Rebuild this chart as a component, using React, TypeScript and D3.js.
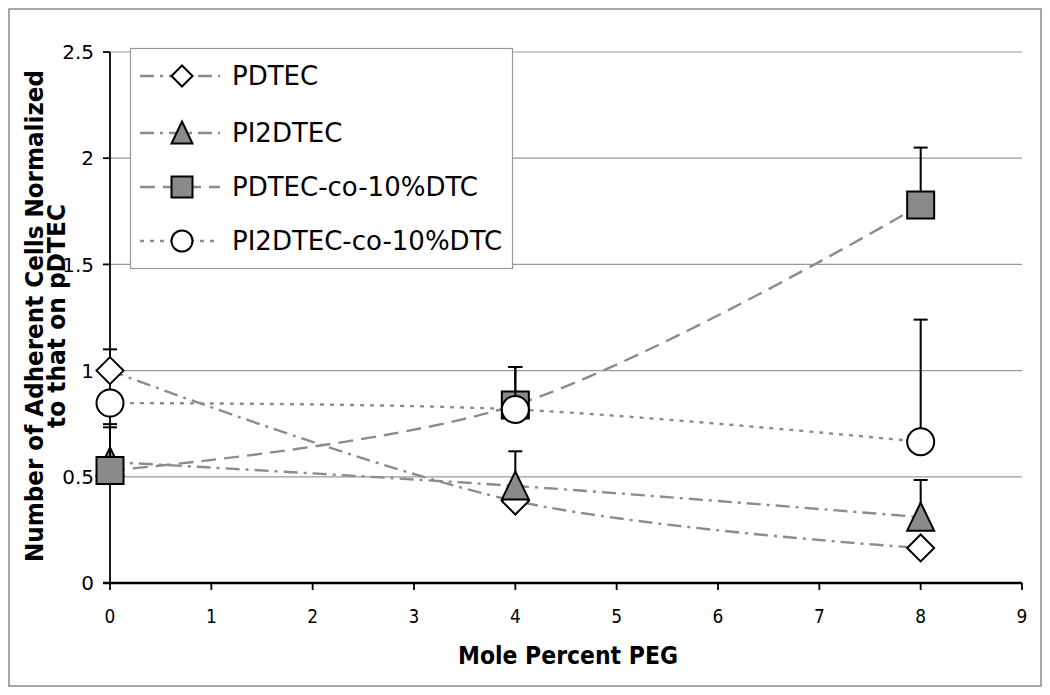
import React, { useEffect, useRef } from "react";
import * as d3 from "d3";

// mole percent PEG on the x axis
const molePercent = [0, 4, 8];

const seriesNames = ["PDTEC", "PI2DTEC", "PDTEC-co-10%DTC", "PI2DTEC-co-10%DTC"];
const pdtec = [1.0, 0.386, 0.165];
const pdtecErr = [0.1, 0.05, 0.0];
const pi2dtec = [0.57, 0.457, 0.31];
const pi2dtecErr = [0.163, 0.163, 0.175];
const pdtecCo = [0.53, 0.838, 1.78];
const pdtecCoErr = [0.218, 0.179, 0.27];
const pi2dtecCo = [0.847, 0.817, 0.665];
const pi2dtecCoErr = [0.0, 0.2, 0.575];

const xTicks = [0, 1, 2, 3, 4, 5, 6, 7, 8, 9];
const yTicks = [0, 0.5, 1, 1.5, 2, 2.5];

const W = 1050;
const H = 695;
const plot = { left: 110, right: 1022, top: 52, bottom: 583 };
const lineGray = "#8c8c8c";
const font = "'DejaVu Sans', Verdana, sans-serif";

type Marker = "diamond" | "triangle" | "square" | "circle";

const styles: { marker: Marker; fill: string; dash: string }[] = [
  { marker: "diamond", fill: "#ffffff", dash: "14,6,3,6" },
  { marker: "triangle", fill: "#8a8a8a", dash: "14,6,3,6" },
  { marker: "square", fill: "#8a8a8a", dash: "15,8" },
  { marker: "circle", fill: "#ffffff", dash: "4,6" },
];

function markerPath(m: Marker, s: number): string {
  const h = s / 2;
  if (m === "diamond") return `M0,${-h}L${h},0L0,${h}L${-h},0Z`;
  if (m === "square") return `M${-h},${-h}H${h}V${h}H${-h}Z`;
  if (m === "triangle") return `M0,${-h - 1}L${h},${h}L${-h},${h}Z`;
  return d3.arc()({ innerRadius: 0, outerRadius: h, startAngle: 0, endAngle: 2 * Math.PI }) as string;
}

const App: React.FC = () => {
  const svgRef = useRef<SVGSVGElement>(null);

  useEffect(() => {
    document.body.style.margin = "0";
    const svg = d3.select(svgRef.current);
    svg.selectAll("*").remove();

    const x = d3.scaleLinear().domain([0, 9]).range([plot.left, plot.right]);
    const y = d3.scaleLinear().domain([0, 2.5]).range([plot.bottom, plot.top]);

    const values = [pdtec, pi2dtec, pdtecCo, pi2dtecCo];
    const errors = [pdtecErr, pi2dtecErr, pdtecCoErr, pi2dtecCoErr];

    svg.append("rect").attr("width", W).attr("height", H).attr("fill", "#fff");
    svg
      .append("rect")
      .attr("x", 9)
      .attr("y", 9)
      .attr("width", 1032)
      .attr("height", 677)
      .attr("fill", "none")
      .attr("stroke", "#8a8a8a")
      .attr("stroke-width", 1.5);

    // axis titles (condensed bold, like the original Tahoma)
    svg
      .append("text")
      .attr("x", 568)
      .attr("y", 664)
      .attr("text-anchor", "middle")
      .attr("font-family", font)
      .attr("font-weight", "bold")
      .attr("font-size", 25)
      .attr("textLength", 220)
      .attr("lengthAdjust", "spacingAndGlyphs")
      .text("Mole Percent PEG");

    const yTitle = svg
      .append("g")
      .attr("transform", `translate(0, 316) rotate(-90)`)
      .attr("font-family", font)
      .attr("font-weight", "bold")
      .attr("font-size", 25);
    yTitle
      .append("text")
      .attr("x", 0)
      .attr("y", 43)
      .attr("text-anchor", "middle")
      .attr("textLength", 492)
      .attr("lengthAdjust", "spacingAndGlyphs")
      .text("Number of Adherent Cells Normalized");
    yTitle
      .append("text")
      .attr("x", 0)
      .attr("y", 65)
      .attr("text-anchor", "middle")
      .attr("textLength", 224)
      .attr("lengthAdjust", "spacingAndGlyphs")
      .text("to that on pDTEC");

    // grid lines
    svg
      .append("g")
      .selectAll("line")
      .data(yTicks.filter((t) => t > 0))
      .enter()
      .append("line")
      .attr("x1", plot.left)
      .attr("x2", plot.right)
      .attr("y1", (d) => y(d))
      .attr("y2", (d) => y(d))
      .attr("stroke", "#999")
      .attr("stroke-width", 1.2);

    // y axis
    const yAxis = svg.append("g");
    yAxis
      .append("line")
      .attr("x1", plot.left)
      .attr("x2", plot.left)
      .attr("y1", y(0))
      .attr("y2", y(2.5))
      .attr("stroke", "#000")
      .attr("stroke-width", 1.8);
    yTicks.forEach((t) => {
      yAxis
        .append("line")
        .attr("x1", plot.left - 7)
        .attr("x2", plot.left)
        .attr("y1", y(t))
        .attr("y2", y(t))
        .attr("stroke", "#000")
        .attr("stroke-width", 1.8);
      yAxis
        .append("text")
        .attr("x", 94)
        .attr("y", y(t))
        .attr("dy", "0.36em")
        .attr("text-anchor", "end")
        .attr("font-family", font)
        .attr("font-size", 20)
        .text(String(t));
    });

    // x axis
    const xAxis = svg.append("g");
    xAxis
      .append("line")
      .attr("x1", plot.left - 7)
      .attr("x2", plot.right)
      .attr("y1", y(0))
      .attr("y2", y(0))
      .attr("stroke", "#000")
      .attr("stroke-width", 2.4);
    xTicks.forEach((t) => {
      xAxis
        .append("line")
        .attr("x1", x(t))
        .attr("x2", x(t))
        .attr("y1", y(0))
        .attr("y2", y(0) + 7)
        .attr("stroke", "#000")
        .attr("stroke-width", 1.8);
      xAxis
        .append("text")
        .attr("x", x(t))
        .attr("y", 623)
        .attr("text-anchor", "middle")
        .attr("font-family", font)
        .attr("font-size", 20)
        .attr("transform", `translate(${x(t)},0) scale(0.85,1) translate(${-x(t)},0)`)
        .text(String(t));
    });

    // series lines
    const line = d3
      .line<number>()
      .x((_, i) => x(molePercent[i]))
      .y((d) => y(d))
      .curve(d3.curveCatmullRom.alpha(0.5));

    values.forEach((vals, si) => {
      svg
        .append("path")
        .attr("d", line(vals))
        .attr("fill", "none")
        .attr("stroke", lineGray)
        .attr("stroke-width", 2.4)
        .attr("stroke-dasharray", styles[si].dash);
    });

    // error bars + markers, series by series
    values.forEach((vals, si) => {
      const g = svg.append("g");
      vals.forEach((v, i) => {
        const e = errors[si][i];
        if (e <= 0) return;
        const cx = x(molePercent[i]);
        g.append("line")
          .attr("x1", cx)
          .attr("x2", cx)
          .attr("y1", y(v))
          .attr("y2", y(v + e))
          .attr("stroke", "#000")
          .attr("stroke-width", 2);
        g.append("line")
          .attr("x1", cx - 7)
          .attr("x2", cx + 7)
          .attr("y1", y(v + e))
          .attr("y2", y(v + e))
          .attr("stroke", "#000")
          .attr("stroke-width", 2);
      });
      g.selectAll("path")
        .data(vals)
        .enter()
        .append("path")
        .attr("transform", (d, i) => `translate(${x(molePercent[i])},${y(d)})`)
        .attr("d", markerPath(styles[si].marker, 27))
        .attr("fill", styles[si].fill)
        .attr("stroke", "#000")
        .attr("stroke-width", 2);
    });

    // legend
    const legend = svg.append("g");
    legend
      .append("rect")
      .attr("x", 130.5)
      .attr("y", 48.5)
      .attr("width", 382)
      .attr("height", 220)
      .attr("fill", "#fff")
      .attr("stroke", "#999")
      .attr("stroke-width", 1.2);
    const rowY = [76, 133, 187, 241];
    seriesNames.forEach((name, si) => {
      const ry = rowY[si];
      legend
        .append("line")
        .attr("x1", 140)
        .attr("x2", 220)
        .attr("y1", ry)
        .attr("y2", ry)
        .attr("stroke", lineGray)
        .attr("stroke-width", 2.4)
        .attr("stroke-dasharray", styles[si].dash);
      legend
        .append("path")
        .attr("transform", `translate(182,${ry})`)
        .attr("d", markerPath(styles[si].marker, 21))
        .attr("fill", styles[si].fill)
        .attr("stroke", "#000")
        .attr("stroke-width", 2);
      legend
        .append("text")
        .attr("x", 232)
        .attr("y", ry)
        .attr("dy", "0.36em")
        .attr("font-family", font)
        .attr("font-size", 26)
        .text(name);
    });
  }, []);

  return <svg ref={svgRef} width={W} height={H} style={{ display: "block" }} />;
};

export default App;
